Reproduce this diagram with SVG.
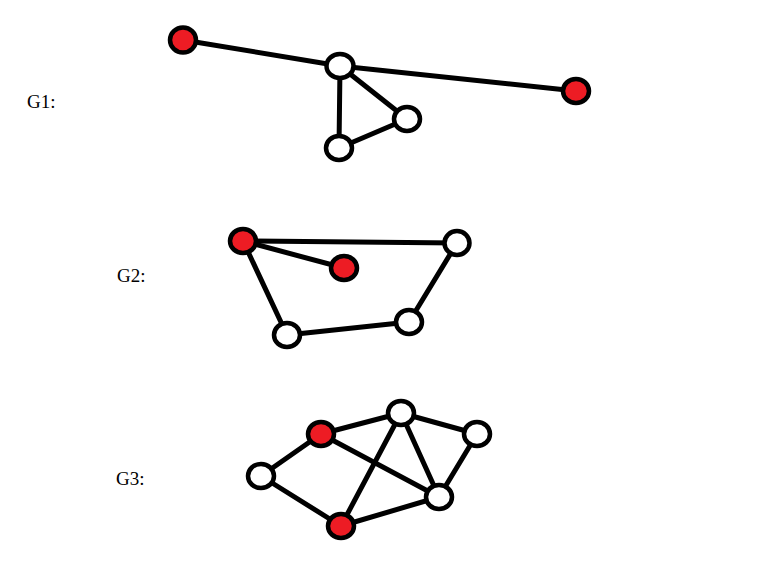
<svg xmlns="http://www.w3.org/2000/svg" width="776" height="569" viewBox="0 0 776 569">
<style>
.e{stroke:#000;stroke-width:5;stroke-linecap:round;fill:none}
.n{stroke:#000;stroke-width:4.5;fill:#fff}
.r{fill:#ed1c24}
.t{font-family:"Liberation Serif",serif;font-size:19px;fill:#000}
</style>
<rect width="776" height="569" fill="#fff"/>
<g id="connectors">
<line class="e" x1="183" y1="40" x2="340" y2="66"/>
<line class="e" x1="340" y1="66" x2="576" y2="91"/>
<line class="e" x1="340" y1="66" x2="407" y2="119"/>
<line class="e" x1="340" y1="66" x2="339" y2="148"/>
<line class="e" x1="339" y1="148" x2="407" y2="119"/>
<line class="e" x1="243" y1="241" x2="457" y2="243"/>
<line class="e" x1="243" y1="241" x2="344" y2="268"/>
<line class="e" x1="243" y1="241" x2="287" y2="335"/>
<line class="e" x1="287" y1="335" x2="409" y2="322"/>
<line class="e" x1="409" y1="322" x2="457" y2="243"/>
<line class="e" x1="261" y1="476" x2="321" y2="434"/>
<line class="e" x1="321" y1="434" x2="401" y2="413"/>
<line class="e" x1="401" y1="413" x2="477" y2="434"/>
<line class="e" x1="477" y1="434" x2="439" y2="497"/>
<line class="e" x1="401" y1="413" x2="439" y2="497"/>
<line class="e" x1="401" y1="413" x2="341" y2="526"/>
<line class="e" x1="321" y1="434" x2="439" y2="497"/>
<line class="e" x1="261" y1="476" x2="341" y2="526"/>
<line class="e" x1="341" y1="526" x2="439" y2="497"/>
</g>
<g id="g1-a"><ellipse class="n r" cx="183" cy="40" rx="13" ry="12.5"/></g>
<g id="g1-b"><ellipse class="n" cx="340" cy="66" rx="13.5" ry="12"/></g>
<g id="g1-c"><ellipse class="n r" cx="576" cy="91" rx="13" ry="12"/></g>
<g id="g1-d"><ellipse class="n" cx="407" cy="119" rx="13" ry="12"/></g>
<g id="g1-e"><ellipse class="n" cx="339" cy="148" rx="13" ry="12"/></g>
<g id="g2-a"><ellipse class="n r" cx="243" cy="241" rx="13" ry="12"/></g>
<g id="g2-b"><ellipse class="n r" cx="344" cy="268" rx="13" ry="12"/></g>
<g id="g2-c"><ellipse class="n" cx="457" cy="243" rx="12.5" ry="12"/></g>
<g id="g2-d"><ellipse class="n" cx="409" cy="322" rx="13" ry="12"/></g>
<g id="g2-e"><ellipse class="n" cx="287" cy="335" rx="13" ry="12"/></g>
<g id="g3-a"><ellipse class="n" cx="401" cy="413" rx="13" ry="12"/></g>
<g id="g3-b"><ellipse class="n r" cx="321" cy="434" rx="13" ry="12"/></g>
<g id="g3-c"><ellipse class="n" cx="477" cy="434" rx="13" ry="12"/></g>
<g id="g3-d"><ellipse class="n" cx="261" cy="476" rx="13" ry="12"/></g>
<g id="g3-e"><ellipse class="n" cx="439" cy="497" rx="13" ry="12"/></g>
<g id="g3-f"><ellipse class="n r" cx="341" cy="526" rx="13" ry="12"/></g>
<g id="labels">
<text class="t" x="27" y="108">G1:</text>
<text class="t" x="117" y="282">G2:</text>
<text class="t" x="116" y="485">G3:</text>
</g>
</svg>
